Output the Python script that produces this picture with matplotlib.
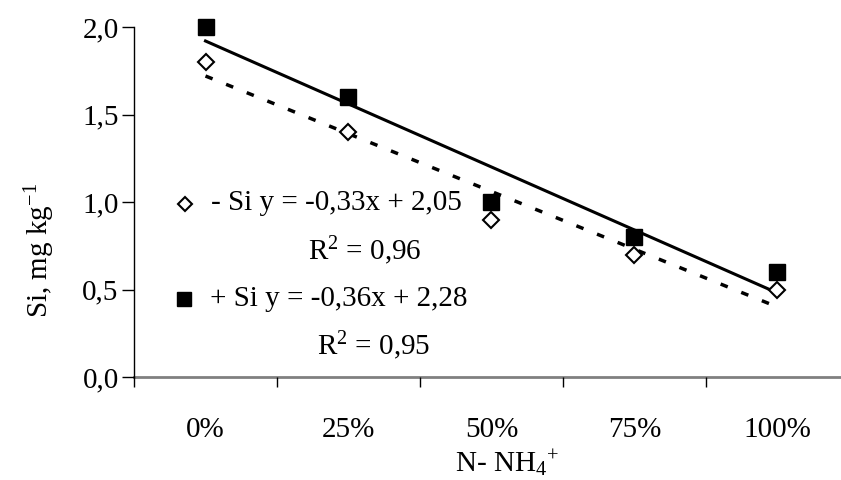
import numpy as np
import matplotlib
matplotlib.use("Agg")
import matplotlib.pyplot as plt
from matplotlib.lines import Line2D

plt.rcParams['font.family'] = ['Liberation Serif', 'DejaVu Serif']
plt.rcParams['mathtext.fontset'] = 'custom'
plt.rcParams['mathtext.rm'] = 'Liberation Serif'
plt.rcParams['mathtext.it'] = 'Liberation Serif:italic'

## data
categories = ['0%', '25%', '50%', '75%', '100%']
minus_si = [1.8, 1.4, 0.9, 0.7, 0.5]
plus_si = [2.0, 1.6, 1.0, 0.8, 0.6]
## trend line coefficients (slope, intercept) as printed on the chart
minus_fit = [-0.33, 2.05]
plus_fit = [-0.36, 2.28]
yticks = [0.0, 0.5, 1.0, 1.5, 2.0]
ytick_labels = ['0,0', '0,5', '1,0', '1,5', '2,0']

FS = 21
W, H = 841, 480
fig = plt.figure(figsize=(W / 100, H / 100), dpi=100)

## axes placed in pixel terms so it lines up with the original
ax_l, ax_b, ax_w, ax_h = 134, 377, 715, 350
ax = fig.add_axes([ax_l / W, (H - ax_b) / H, ax_w / W, ax_h / H])

x = np.arange(1, len(categories) + 1)

ax.plot(x, np.polyval(minus_fit, x), color='black', lw=2.5,
        linestyle=(0, (2.2, 4.2)), solid_capstyle='butt', zorder=2)
ax.plot(x, np.polyval(plus_fit, x), color='black', lw=2.2, zorder=2)
ax.plot(x, minus_si, linestyle='none', marker='D', markersize=8,
        markerfacecolor='white', markeredgecolor='black', markeredgewidth=1.5,
        zorder=3, clip_on=False)
ax.plot(x, plus_si, linestyle='none', marker='s', markersize=11,
        color='black', zorder=3, clip_on=False)

ax.set_xlim(0.5, len(categories) + 0.5)
ax.set_ylim(0, 2.0)

## category boundaries get ticks, labels sit at the centers
ax.set_xticks(np.arange(0.5, len(categories) + 1, 1.0))
ax.set_xticklabels([])
ax.set_xticks(x, minor=True)
ax.set_xticklabels(categories, minor=True, fontsize=FS)
ax.tick_params(axis='x', which='major', direction='out', length=7, width=1, color='black')
ax.tick_params(axis='x', which='minor', length=0, pad=29)

ax.set_yticks(yticks)
ax.set_yticklabels(ytick_labels, fontsize=FS)
ax.tick_params(axis='y', direction='out', length=9, width=1, pad=2)

for s in ['top', 'right']:
    ax.spines[s].set_visible(False)
ax.spines['left'].set_linewidth(1.0)
ax.spines['left'].set_bounds(0, 2.0)
ax.spines['bottom'].set_color('#808080')
ax.spines['bottom'].set_linewidth(2.0)
ax.spines['bottom'].set_zorder(1)


def fx(px):
    return px / W


def fy(py):
    return (H - py) / H


## axis titles
fig.text(fx(40), fy(250), 'Si, mg kg$^{-1}$', rotation=90, fontsize=FS,
         ha='center', va='center')
fig.text(fx(507), fy(463), 'N- NH$_4$$^{+}$', fontsize=FS, ha='center', va='center')

## equation block
fig.add_artist(Line2D([fx(185)], [fy(204)], marker='D', markersize=7,
                      markerfacecolor='white', markeredgecolor='black',
                      markeredgewidth=1.5, transform=fig.transFigure))
fig.text(fx(211), fy(203), '- Si y = -0,33x + 2,05', fontsize=FS, ha='left', va='center')
fig.text(fx(365), fy(251), 'R$^2$ = 0,96', fontsize=FS, ha='center', va='center')

fig.add_artist(Line2D([fx(184)], [fy(299)], marker='s', markersize=10,
                      color='black', transform=fig.transFigure))
fig.text(fx(210), fy(299), '+ Si y = -0,36x + 2,28', fontsize=FS, ha='left', va='center')
fig.text(fx(374), fy(346), 'R$^2$ = 0,95', fontsize=FS, ha='center', va='center')

fig.savefig('out.png', dpi=100)
